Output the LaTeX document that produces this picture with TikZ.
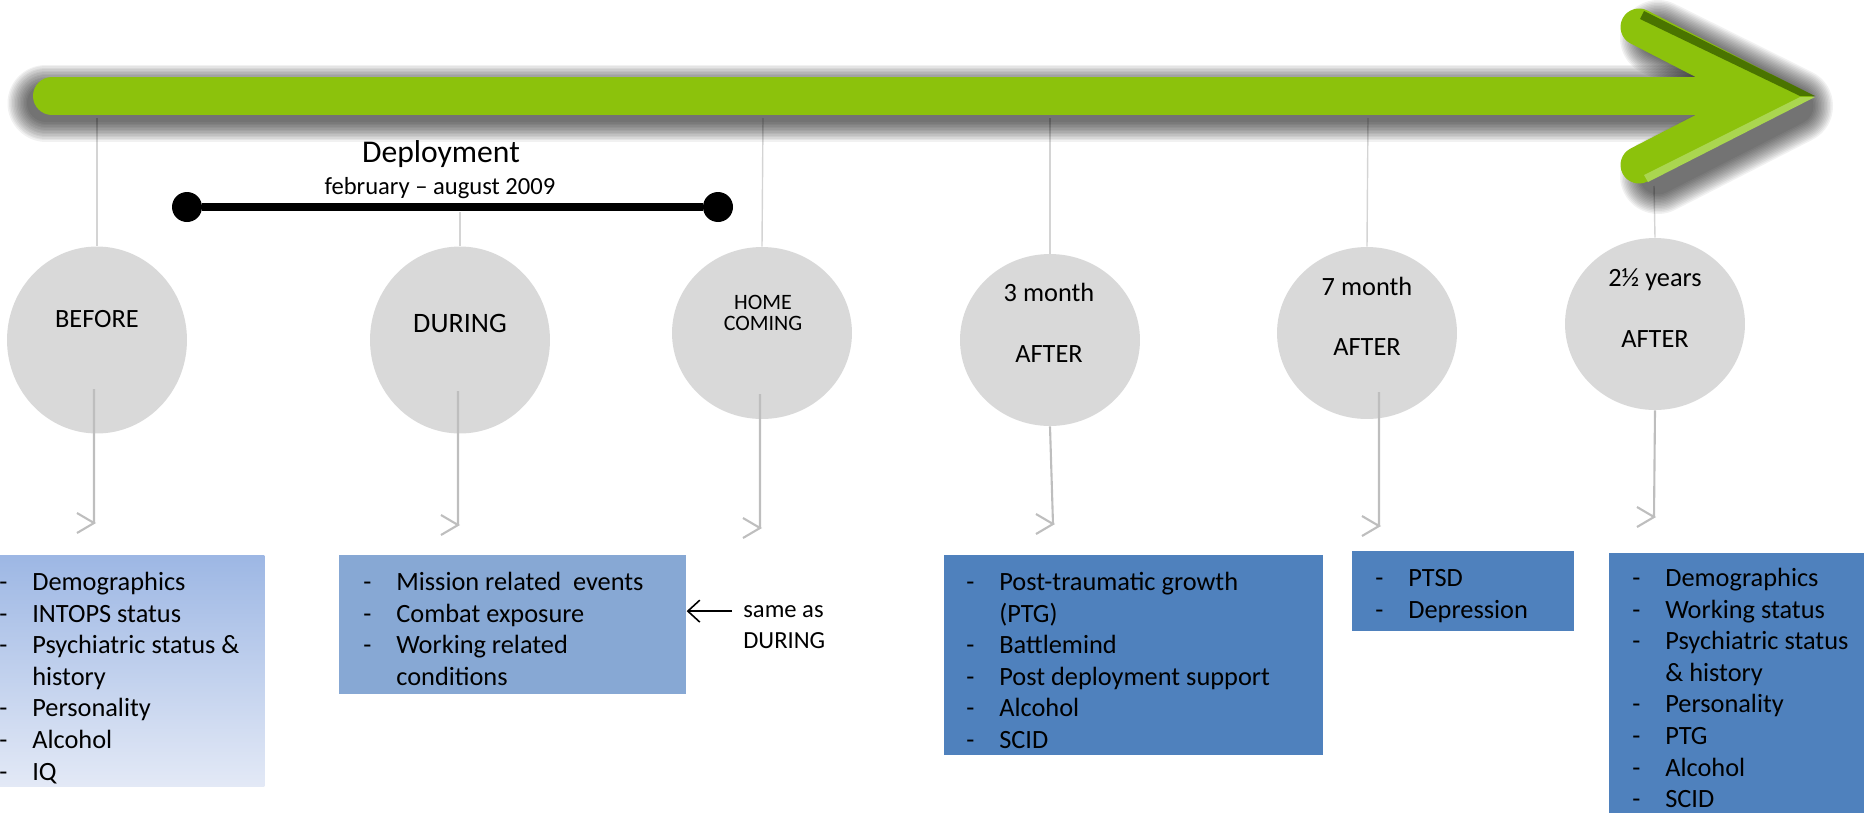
\documentclass[tikz,border=0pt]{standalone}
\usepackage{fontspec}
\setmainfont{Carlito}
\usetikzlibrary{shapes,arrows,arrows.meta}
\definecolor{arrowgreen}{RGB}{140,194,12}
\definecolor{bevelgreen}{RGB}{74,116,0}
\definecolor{shinegreen}{RGB}{170,214,80}
\definecolor{stagegray}{RGB}{217,217,217}
\definecolor{dropgray}{RGB}{190,190,190}
\definecolor{tickgray}{RGB}{212,212,212}
\definecolor{paleblue}{RGB}{157,183,228}
\definecolor{fadeblue}{RGB}{227,233,246}
\definecolor{midblue}{RGB}{135,168,212}
\definecolor{deepblue}{RGB}{79,129,189}
\tikzstyle{stage}=[ellipse,fill=stagegray,inner sep=0pt,minimum width=3.6cm,minimum height=3.44cm]
\tikzstyle{stagetext}=[anchor=base,inner sep=0pt,font=\fontsize{15}{18}\selectfont]
\tikzstyle{tick}=[draw=tickgray,line width=0.8pt]
\tikzstyle{drop}=[draw=dropgray,line width=1.2pt]
\tikzstyle{listbox}=[anchor=north west,inner sep=0pt]
\tikzstyle{listtext}=[anchor=north west,inner sep=0pt,font=\fontsize{15}{18}\selectfont]
\tikzstyle{dot}=[circle,fill=black,inner sep=0pt,minimum size=0.6cm]
\newcommand{\newStage}[3]{\node[stage,#3](#1) at #2 {};}
\newcommand{\newDrop}[2]{\draw[drop] (#1) -- (#2) ++(-17,-10) -- (#2) -- ++(-17,10);}
\newcommand{\newList}[1]{\begin{tabular}{@{}p{0.66cm}@{}l@{}}#1\end{tabular}}

\begin{document}
\begin{tikzpicture}[x=0.02cm,y=-0.02cm,>=latex]
    \useasboundingbox (0,0) rectangle (1864,812);
    % stages
    \newStage{before}{(97,340)}{minimum height=3.74cm}
    \newStage{during}{(460,340)}{minimum height=3.74cm}
    \newStage{home}{(762,333)}{}
    \newStage{three}{(1050,340)}{}
    \newStage{seven}{(1367,333)}{}
    \newStage{years}{(1655,324)}{}
    \node[stagetext] (lbefore) at (97,327) {BEFORE};
    \node[stagetext,font=\fontsize{16}{19}\selectfont] (lduring) at (460,332) {DURING};
    \node[stagetext,font=\fontsize{12.5}{15}\selectfont] (lhome) at (763,309) {HOME};
    \node[stagetext,font=\fontsize{12.5}{15}\selectfont] (lcoming) at (763,330) {COMING};
    \node[stagetext] (lthree) at (1049,301) {3 month};
    \node[stagetext] (athree) at (1049,362) {AFTER};
    \node[stagetext] (lseven) at (1367,295) {7 month};
    \node[stagetext] (aseven) at (1367,355) {AFTER};
    \node[stagetext] (lyears) at (1655,286) {2½ years};
    \node[stagetext] (ayears) at (1655,347) {AFTER};
    % ticks from the time line
    \coordinate (t1) at (97,118);
    \coordinate (t2) at (460,212);
    \coordinate (t3) at (763,118);
    \coordinate (t4) at (1050,118);
    \coordinate (t5) at (1368,118);
    \coordinate (t6) at (1654,186);
    \draw[tick] (t1) -- (before.north);
    \draw[tick] (t2) -- (during.north);
    \draw[tick] (t3) -- (home.north);
    \draw[tick] (t4) -- (three.north);
    \draw[tick] (t5) -- (seven.north);
    \draw[tick] (t6) -- (years.north);
    % soft shadow of the time line
    \foreach \w in {0,3,...,39}
        \draw[black,opacity=0.055,line width={(38+\w)*0.02cm},line cap=round] (46,103) -- (1700,103);
    \foreach \w in {0,3,...,39}
        \draw[black,opacity=0.055,line width={(37+\w)*0.02cm},line cap=round,line join=round] (1658,38) -- (1795,106) -- (1658,176);
    % time line
    \draw[arrowgreen,line width=0.76cm,line cap=round] (52,96) -- (1760,96);
    \draw[arrowgreen,line width=0.74cm,line cap=round,line join=miter] (1639,27) -- (1773,96) -- (1639,165);
    \fill[bevelgreen] (1644,11) -- (1815,96) -- (1800,96) -- (1640,19) -- cycle;
    \fill[shinegreen] (1815,97) -- (1648,182) -- (1644,175) -- (1800,97) -- cycle;
    % deployment
    \node[dot] (d1) at (187,207) {};
    \node[dot] (d2) at (718,207) {};
    \draw[line width=4pt] (d1) -- (d2);
    \node[anchor=base,font=\fontsize{18}{22}\selectfont] (dep) at (441,162) {Deployment};
    \node[anchor=base,font=\fontsize{14}{17}\selectfont] (dates) at (440,194) {february – august 2009};
    % drops to the measures
    \coordinate (s1) at (94,389);   \coordinate (e1) at (94,523);
    \coordinate (s2) at (458,391);  \coordinate (e2) at (458,525);
    \coordinate (s3) at (760,394);  \coordinate (e3) at (760,528);
    \coordinate (e4) at (1053,524);
    \coordinate (s5) at (1379,392); \coordinate (e5) at (1379,526);
    \coordinate (e6) at (1654,517);
    \newDrop{s1}{e1}
    \newDrop{s2}{e2}
    \newDrop{s3}{e3}
    \newDrop{three.south}{e4}
    \newDrop{s5}{e5}
    \newDrop{years.south}{e6}
    % measures
    \node[listbox,top color=paleblue,bottom color=fadeblue,minimum width=5.76cm,minimum height=4.62cm] (b1) at (-24,555) {};
    \node[listbox,fill=midblue,minimum width=6.94cm,minimum height=2.78cm] (b2) at (339,555) {};
    \node[listbox,fill=deepblue,minimum width=7.58cm,minimum height=4cm] (b3) at (944,555) {};
    \node[listbox,fill=deepblue,minimum width=4.44cm,minimum height=1.6cm] (b4) at (1352,551) {};
    \node[listbox,fill=deepblue,minimum width=5.42cm,minimum height=5.6cm] (b5) at (1609,553) {};
    \node[listtext] (i1) at (-1,568) {\newList{- & Demographics\\ - & INTOPS status\\ - & Psychiatric status \&\\ & history\\ - & Personality\\ - & Alcohol\\ - & IQ}};
    \node[listtext] (i2) at (363,568) {\newList{- & Mission related~ events\\ - & Combat exposure\\ - & Working related\\ & conditions}};
    \node[listtext] (i3) at (966,568) {\newList{- & Post-traumatic growth\\ & (PTG)\\ - & Battlemind\\ - & Post deployment support\\ - & Alcohol\\ - & SCID}};
    \node[listtext] (i4) at (1375,564) {\newList{- & PTSD\\ - & Depression}};
    \node[listtext] (i5) at (1632,564) {\newList{- & Demographics\\ - & Working status\\ - & Psychiatric status\\ & \& history\\ - & Personality\\ - & PTG\\ - & Alcohol\\ - & SCID}};
    % homecoming note
    \node[anchor=base west,inner sep=0pt,font=\fontsize{14}{17}\selectfont] (same) at (743,617) {same as};
    \node[anchor=base west,inner sep=0pt,font=\fontsize{14}{17}\selectfont] (sameb) at (743,648) {DURING};
    \draw[-{Straight Barb[length=0.24cm,width=0.44cm]},line width=0.9pt] ([xshift=-0.22cm]same.west) -- (same.west -| b2.east);
\end{tikzpicture}
\end{document}
